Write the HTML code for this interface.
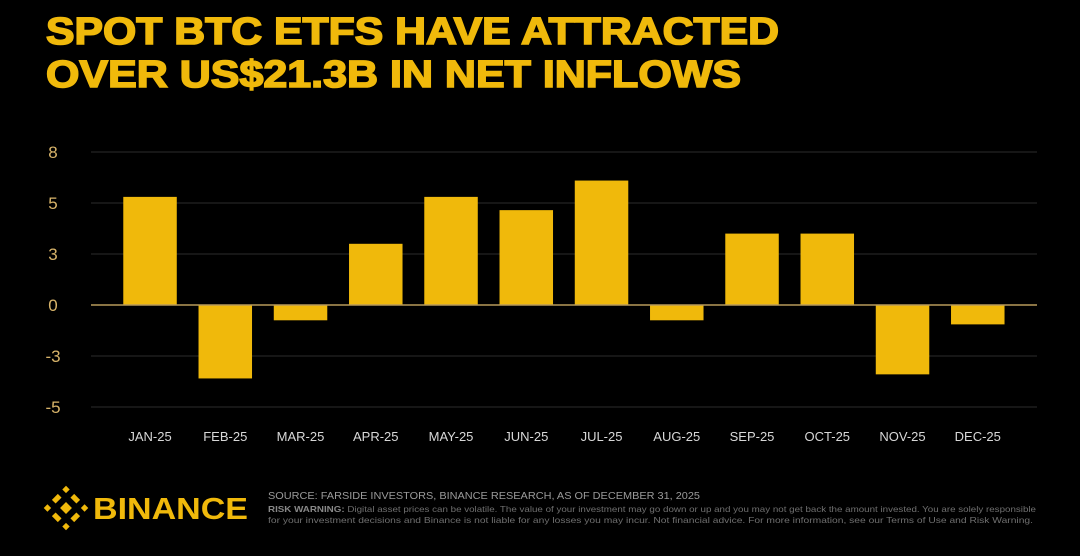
<!DOCTYPE html>
<html><head><meta charset="utf-8"><style>
html,body{margin:0;padding:0;background:#000;width:1080px;height:556px;overflow:hidden}
svg{display:block;font-family:"Liberation Sans",sans-serif}
</style></head><body>
<svg id="chart" width="1080" height="556" viewBox="0 0 1080 556">
<rect width="1080" height="556" fill="#000"/>
<text x="46" y="44" font-size="38" font-weight="bold" fill="#F0B90B" stroke="#F0B90B" stroke-width="1.6" textLength="733" lengthAdjust="spacingAndGlyphs">SPOT BTC ETFS HAVE ATTRACTED</text>
<text x="46" y="87" font-size="38" font-weight="bold" fill="#F0B90B" stroke="#F0B90B" stroke-width="1.6" textLength="695" lengthAdjust="spacingAndGlyphs">OVER US$21.3B IN NET INFLOWS</text>
<g id="grid"></g><g id="bars"></g><g id="xlabels"></g>
<g>
<g transform="translate(66,508) rotate(45) scale(1.05)" fill="#F0B90B">
<rect x="-4" y="-4" width="8" height="8"/>
<rect x="-15" y="-4" width="5" height="8"/><rect x="10" y="-4" width="5" height="8"/>
<rect x="-4" y="-15" width="8" height="5"/><rect x="-4" y="10" width="8" height="5"/>
<rect x="-15" y="-15" width="5" height="5"/><rect x="10" y="10" width="5" height="5"/>
<rect x="-15" y="10" width="5" height="5"/><rect x="10" y="-15" width="5" height="5"/>
</g>
<text x="93" y="519" font-size="31" font-weight="bold" fill="#F0B90B" textLength="155" lengthAdjust="spacingAndGlyphs">BINANCE</text>
</g>
<text x="268" y="499" font-size="10" fill="#9a9a9a" textLength="432" lengthAdjust="spacingAndGlyphs">SOURCE: FARSIDE INVESTORS, BINANCE RESEARCH, AS OF DECEMBER 31, 2025</text>
<text x="268" y="512" font-size="8.5" fill="#6f6f6f" textLength="768" lengthAdjust="spacingAndGlyphs"><tspan font-weight="bold" fill="#888">RISK WARNING:</tspan> Digital asset prices can be volatile. The value of your investment may go down or up and you may not get back the amount invested. You are solely responsible</text>
<text x="268" y="523" font-size="8.5" fill="#6f6f6f" textLength="765" lengthAdjust="spacingAndGlyphs">for your investment decisions and Binance is not liable for any losses you may incur. Not financial advice. For more information, see our Terms of Use and Risk Warning.</text>
</svg>
<script>
const categories=["JAN-25","FEB-25","MAR-25","APR-25","MAY-25","JUN-25","JUL-25","AUG-25","SEP-25","OCT-25","NOV-25","DEC-25"];
const values=[5.3,-3.6,-0.75,3.0,5.3,4.65,6.1,-0.75,3.5,3.5,-3.4,-0.95];
const tickValues=[7.5,5,2.5,0,-2.5,-5];
const tickLabels=["8","5","3","0","-3","-5"];
const NS="http://www.w3.org/2000/svg";
const x0=112.4,band=75.25,barW=53.5,plotL=91,plotR=1037;
function y(v){return 305-v*20.4;}
function xc(i){return x0+band*(i+0.5);}
function mk(t,a,p){const e=document.createElementNS(NS,t);for(const k in a)e.setAttribute(k,a[k]);p.appendChild(e);return e;}
const grid=document.getElementById('grid'),bars=document.getElementById('bars'),xl=document.getElementById('xlabels');
tickValues.forEach((v,i)=>{
  if(v!==0){const l=mk('line',{x1:plotL,x2:plotR,y1:y(v),y2:y(v),stroke:'#2b2b2b','stroke-width':1},grid);
  
  }
  const t=mk('text',{x:53,y:y(v)+6,'font-size':17,fill:'#d8b46a','text-anchor':'middle'},grid);
  t.textContent=tickLabels[i];
  
  
});
values.forEach((v,i)=>{
  const top=Math.min(y(v),y(0)),h=Math.abs(y(v)-y(0));
  const r=mk('rect',{x:xc(i)-barW/2,y:top,width:barW,height:h,fill:'#F0B90B'},bars);
  
  
  const t=mk('text',{x:xc(i),y:441,'font-size':13,fill:'#d8d8d8','text-anchor':'middle'},xl);
  t.textContent=categories[i];
  
  
});
const z=mk('line',{x1:plotL,x2:plotR,y1:y(0),y2:y(0),stroke:'#b89a5a','stroke-width':1.5},bars);


</script>
</body></html>
